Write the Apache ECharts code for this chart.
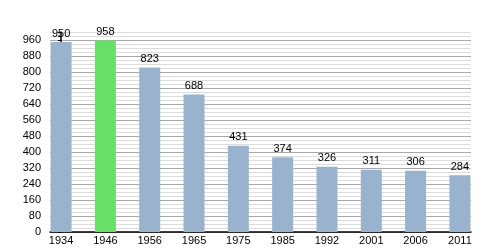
<!DOCTYPE html>
<html><head><meta charset="utf-8">
<script src="https://cdn.jsdelivr.net/npm/echarts@6/dist/echarts.min.js"></script>
<style>html,body{margin:0;padding:0;background:#fff}#c{width:500px;height:250px}</style>
</head><body><div id="c"></div>
<script>
const years = ['1934','1946','1956','1965','1975','1985','1992','2001','2006','2011'];
const population = [950, 958, 823, 688, 431, 374, 326, 311, 306, 284];
const highlightYear = '1946';
const yLabelStep = 80;

const chart = echarts.init(document.getElementById('c'), null, {renderer:'canvas'});
const font = 'Liberation Sans, Arial, sans-serif';
chart.setOption({
  animation: false,
  grid: {left: 50, right: 29, top: 32, bottom: 18, containLabel: false},
  xAxis: {
    type: 'value', min: -0.25, max: 9.25, minInterval: 1, maxInterval: 1,
    splitLine: {show: false},
    axisLine: {show: true, lineStyle: {color: '#000', width: 1.5}},
    axisTick: {show: false},
    axisLabel: {
      margin: 3, fontFamily: font, fontSize: 11, color: '#000',
      formatter: v => Number.isInteger(v) && years[v] !== undefined ? years[v] : ''
    }
  },
  yAxis: {
    type: 'value', min: 0, max: 1000, interval: 20,
    axisLine: {show: true, lineStyle: {color: '#000', width: 1.5}},
    axisTick: {show: true, length: 3, inside: false, lineStyle: {color: '#000'}},
    axisLabel: {
      margin: 9, fontFamily: font, fontSize: 11, color: '#000',
      formatter: v => (v % yLabelStep === 0 && v < 1000) ? String(v) : ''
    },
    splitLine: {show: true, lineStyle: {color: ['#a8a8a8', '#dcdcdc', '#dcdcdc', '#dcdcdc'], width: 1}}
  },
  series: [{
    type: 'bar',
    barWidth: 21,
    data: population.map((v, i) => ({
      value: [i, v],
      itemStyle: {color: years[i] === highlightYear ? '#66e066' : '#99b3cf'}
    })),
    label: {show: true, position: 'top', distance: 3, fontFamily: font, fontSize: 11, color: '#000',
      formatter: p => p.value[1]}
  }]
});
</script></body></html>
